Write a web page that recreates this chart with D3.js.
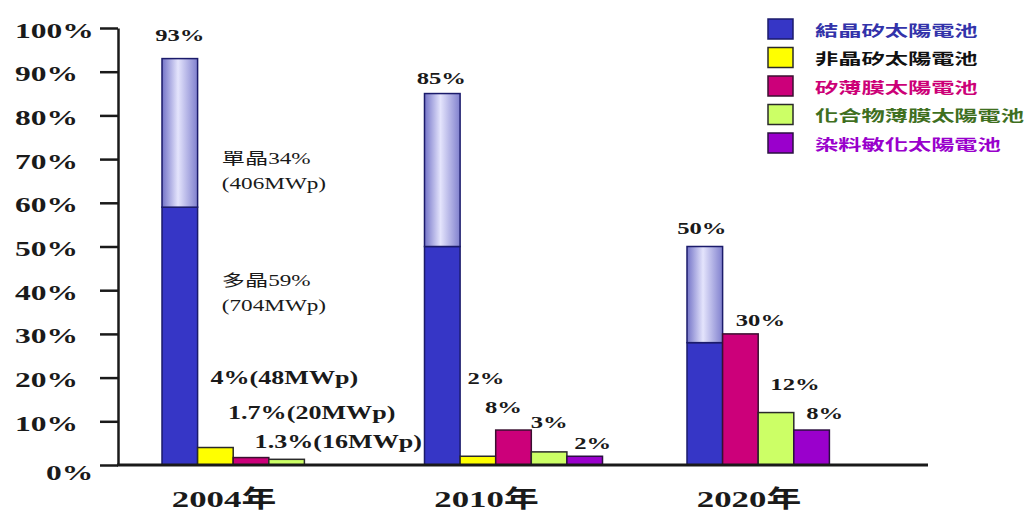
<!DOCTYPE html>
<html>
<head>
<meta charset="utf-8">
<script src="https://cdn.jsdelivr.net/npm/d3@7"></script>
<style>
  html, body { margin: 0; padding: 0; background: #fff; }
  svg { display: block; }
  text { font-family: "Liberation Serif", "Times New Roman", "Noto Sans CJK TC", serif; font-weight: bold; }
</style>
</head>
<body>
<svg id="chart" width="1031" height="516"></svg>
<script>
// ---- data ----
const years = ["2004年", "2010年", "2020年"];
const seriesNames = ["結晶矽太陽電池", "非晶矽太陽電池", "矽薄膜太陽電池", "化合物薄膜太陽電池", "染料敏化太陽電池"];
const polyCrystal   = [59, 50, 28];   // 多晶 (lower part of the crystalline bar)
const monoCrystal   = [34, 35, 22];   // 單晶 (upper part of the crystalline bar)
const amorphousSi   = [4, 2, null];
const thinFilmSi    = [1.7, 8, 30];
const compoundFilm  = [1.3, 3, 12];
const dyeSensitized = [null, 2, 8];
const capacity2004  = [406, 704, 48, 20, 16]; // MWp: mono, poly, amorphous, thin-film Si, compound
const yTicks = [0, 10, 20, 30, 40, 50, 60, 70, 80, 90, 100];

// ---- appearance ----
const fills   = ["#3636C6", "#FFFF00", "#CC007A", "#CCFF66", "#9A00CC"];
const strokes = ["#1B1B6B", "#2a2a2a", "#3a1030", "#2a2a2a", "#2a1040"];
const legendText = ["#3333AA", "#111111", "#CC0077", "#3F6F1F", "#9900CC"];

const svg = d3.select("#chart");
const y = d3.scaleLinear().domain([0, 100]).range([465, 28]);
const xGroup = d3.scaleBand().domain(years).range([162, 865]).paddingInner(0.3219).paddingOuter(0);
const slotW = xGroup.bandwidth() / seriesNames.length;

// gradient for the monocrystalline cap
const defs = svg.append("defs");
const grad = defs.append("linearGradient").attr("id", "monoGrad")
  .attr("x1", "0%").attr("x2", "100%").attr("y1", "0%").attr("y2", "0%");
grad.append("stop").attr("offset", "0%").attr("stop-color", "#7474C8");
grad.append("stop").attr("offset", "45%").attr("stop-color", "#E4E4FC");
grad.append("stop").attr("offset", "100%").attr("stop-color", "#8080CE");

function sText(g, x, yy, str, opt) {
  const o = Object.assign({ size: 17, anchor: "middle", sx: 1.45, fill: "#1a1a1a", weight: "bold", family: null }, opt || {});
  const t = g.append("text")
    .attr("transform", `translate(${x},${yy}) scale(${o.sx},1)`)
    .attr("text-anchor", o.anchor)
    .attr("dominant-baseline", "central")
    .style("font-size", o.size + "px")
    .style("font-weight", o.weight)
    .attr("fill", o.fill)
    .text(str);
  if (o.family) t.style("font-family", o.family);
  return t;
}

// ---- build bar layout from the series ----
const seriesValues = [null, amorphousSi, thinFilmSi, compoundFilm, dyeSensitized];
const bars = [];       // one entry per drawn column
years.forEach((yr, i) => {
  let slot = 0;
  seriesNames.forEach((name, s) => {
    const total = s === 0 ? polyCrystal[i] + monoCrystal[i] : seriesValues[s][i];
    if (total == null) return;
    const x0 = xGroup(yr) + slot * slotW;
    slot++;
    const segs = s === 0
      ? [{ v0: 0, v1: polyCrystal[i], fill: fills[0] },
         { v0: polyCrystal[i], v1: total, fill: "url(#monoGrad)" }]
      : [{ v0: 0, v1: total, fill: fills[s] }];
    bars.push({ year: i, series: s, x0, cx: x0 + slotW / 2, total, segs });
  });
});
const barOf = (i, s) => bars.find(b => b.year === i && b.series === s);

// ---- labels (drawn beneath the bars) ----
const labelG = svg.append("g");
const fmt = v => `${v}%`;

// value labels: [year, series, dx, dy]
const valueLabelLayout = [
  [0, 0, 0, -23], [1, 0, -1, -15], [2, 0, -3, -18],
  [1, 1, 8, -78], [1, 2, -10, -23], [1, 3, 0, -30], [1, 4, 8, -13],
  [2, 2, 20, -14], [2, 3, 19, -28], [2, 4, 13, -17]
];
valueLabelLayout.forEach(([i, s, dx, dy]) => {
  const b = barOf(i, s);
  sText(labelG, b.cx + dx, y(b.total) + dy, fmt(b.total), { size: 17 });
});

// 2004 capacity notes
{
  const c = barOf(0, 0);
  const topMono = y(polyCrystal[0] + monoCrystal[0]);
  const topPoly = y(polyCrystal[0]);
  sText(labelG, c.cx + 42, topMono + 100, `單晶${monoCrystal[0]}%`, { size: 16, anchor: "start", weight: "normal" });
  sText(labelG, c.cx + 42, topMono + 125, `(${capacity2004[0]}MWp)`, { size: 16, anchor: "start", weight: "normal" });
  sText(labelG, c.cx + 42, topPoly + 73, `多晶${polyCrystal[0]}%`, { size: 16, anchor: "start", weight: "normal" });
  sText(labelG, c.cx + 42, topPoly + 98, `(${capacity2004[1]}MWp)`, { size: 16, anchor: "start", weight: "normal" });
  const notes = [[1, -5, -70, capacity2004[2]], [2, -23, -45, capacity2004[3]], [3, -32, -17, capacity2004[4]]];
  notes.forEach(([s, dx, dy, mw]) => {
    const b = barOf(0, s);
    sText(labelG, b.cx + dx, y(b.total) + dy, `${fmt(b.total)}(${mw}MWp)`, { size: 18, anchor: "start" });
  });
}

// ---- bars ----
const barG = svg.append("g");
bars.forEach(b => {
  b.segs.forEach(seg => {
    barG.append("rect")
      .attr("x", b.x0)
      .attr("y", y(seg.v1))
      .attr("width", slotW)
      .attr("height", y(seg.v0) - y(seg.v1))
      .attr("fill", seg.fill)
      .attr("stroke", strokes[b.series])
      .attr("stroke-width", 1.5);
  });
});

// ---- y axis ----
const axisG = svg.append("g").attr("transform", "translate(118,0)")
  .call(d3.axisLeft(y).tickValues(yTicks).tickSize(18).tickSizeOuter(0).tickFormat(d => d + "%"));
axisG.select(".domain").attr("stroke", "#1a1a1a").attr("stroke-width", 2.5);
axisG.selectAll(".tick line").attr("stroke", "#1a1a1a").attr("stroke-width", 2.5);
axisG.selectAll(".tick text")
  .attr("x", null).attr("dy", null)
  .attr("text-anchor", "start")
  .attr("dominant-baseline", "central")
  .attr("fill", "#1a1a1a")
  .attr("transform", d => d === 0 ? "translate(-72,7) scale(1.5,1)" : "translate(-103,2) scale(1.5,1)")
  .style("font-size", "21px")
  .style("font-weight", "bold")
  .style("font-family", "\"Liberation Serif\", \"Times New Roman\", serif");

// baseline
svg.append("line")
  .attr("x1", 117).attr("x2", 928)
  .attr("y1", y(0)).attr("y2", y(0))
  .attr("stroke", "#1a1a1a").attr("stroke-width", 3);

// category labels
years.forEach(yr => {
  sText(svg, xGroup(yr) + 62, 499, yr, { size: 24, sx: 1.45 });
});

// ---- legend ----
const legend = svg.append("g");
seriesNames.forEach((name, s) => {
  const top = 19 + s * 28.5;
  legend.append("rect")
    .attr("x", 768).attr("y", top).attr("width", 25).attr("height", 20)
    .attr("fill", fills[s]).attr("stroke", strokes[s]).attr("stroke-width", 1.5);
  sText(legend, 815, top + 10, name, {
    size: 15, anchor: "start", sx: 1.55, fill: legendText[s],
    family: "\"Noto Sans CJK TC\", \"Noto Sans CJK SC\", sans-serif"
  });
});
</script>
</body>
</html>
